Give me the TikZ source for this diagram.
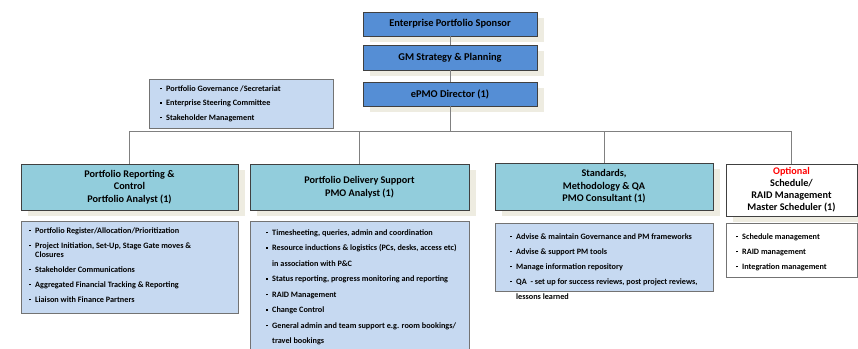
\documentclass[tikz,border=0pt]{standalone}
\usepackage{fontspec}
\setmainfont{Carlito}
\usetikzlibrary{shadows}
\definecolor{topblue}{HTML}{558ED5}
\definecolor{headaqua}{HTML}{92CDDC}
\definecolor{listblue}{HTML}{C6D9F1}
\definecolor{shadebeige}{HTML}{EEECE1}
\definecolor{linegray}{HTML}{808080}
\newcommand{\bul}{\rule[2pt]{1.6pt}{1.6pt}\hspace{4.4pt}}
\newcommand{\ind}{\hspace{6pt}}

\begin{document}
\begin{tikzpicture}[x=1pt,y=-1pt,
    shadowed/.style={drop shadow={shadow xshift=7pt,shadow yshift=-6pt,fill=shadebeige,opacity=1}},
    topbox/.style={draw=black!75,line width=0.9pt,fill=topblue,minimum width=174pt,minimum height=24pt,inner sep=0pt,font=\fontsize{10.4}{12}\selectfont\bfseries,shadowed},
    headbox/.style={draw=black!75,line width=0.9pt,fill=headaqua,inner sep=0pt,align=center,font=\fontsize{10.2}{12.5}\selectfont\bfseries,shadowed},
    listbox/.style={draw=black!55,line width=0.8pt,fill=listblue,inner sep=0pt,anchor=north west},
    listtext/.style={anchor=north west,inner sep=0pt,align=left,font=\fontsize{8.2}{15}\selectfont\bfseries},
    link/.style={draw=linegray,line width=0.8pt}]
    \useasboundingbox (0,0) rectangle (858,348);

    \node[topbox] (eps) at (450,24) {Enterprise Portfolio Sponsor};
    \node[topbox,minimum height=25pt] (gm) at (450,57.5) {GM Strategy \& Planning};
    \node[topbox] (epmo) at (450,94) {ePMO Director (1)};

    \node[listbox,minimum width=184pt,minimum height=49pt] (gov) at (149,79) {};
    \node[listtext,font=\fontsize{8.2}{14.5}\selectfont\bfseries] (govtext) at ([xshift=11pt,yshift=-6.5pt]gov.north west)
        {\bul Portfolio Governance /Secretariat\\
         \bul Enterprise Steering Committee\\
         \bul Stakeholder Management};

    \node[headbox,minimum width=217pt,minimum height=46pt] (hd1) at (129.5,187)
        {Portfolio Reporting \&\\Control\\Portfolio Analyst (1)};
    \node[headbox,minimum width=219pt,minimum height=46pt] (hd2) at (359.5,187)
        {Portfolio Delivery Support\\PMO Analyst (1)};
    \node[headbox,minimum width=218pt,minimum height=47pt] (hd3) at (604,186.5)
        {Standards,\\Methodology \& QA\\PMO Consultant (1)};
    \node[headbox,fill=white,minimum width=131pt,minimum height=52pt,font=\fontsize{10.2}{12}\selectfont\bfseries] (hd4) at (791.5,190)
        {{\color{red}Optional}\\Schedule/\\RAID Management\\Master Scheduler (1)};

    \node[listbox,minimum width=217pt,minimum height=92pt] (l1) at (21,221) {};
    \node[listtext] (t1) at ([xshift=8pt,yshift=-6.5pt]l1.north west)
        {\bul Portfolio Register/Allocation/Prioritization\\
         \bul Project Initiation, Set-Up, Stage Gate moves \&\\[-6pt]
         \ind Closures\\
         \bul Stakeholder Communications\\
         \bul Aggregated Financial Tracking \& Reporting\\
         \bul Liaison with Finance Partners};

    \node[listbox,minimum width=219pt,minimum height=140pt] (l2) at (250,221) {};
    \node[listtext,font=\fontsize{8.2}{15.5}\selectfont\bfseries] (t2) at ([xshift=16pt,yshift=-8.5pt]l2.north west)
        {\bul Timesheeting, queries, admin and coordination\\
         \bul Resource inductions \& logistics (PCs, desks, access etc)\\
         \ind in association with P\&C\\
         \bul Status reporting, progress monitoring and reporting\\
         \bul RAID Management\\
         \bul Change Control\\
         \bul General admin and team support e.g. room bookings/\\
         \ind travel bookings};

    \node[listbox,minimum width=218pt,minimum height=68pt] (l3) at (495,223) {};
    \node[listtext] (t3) at ([xshift=15pt,yshift=-10.5pt]l3.north west)
        {\bul Advise \& maintain Governance and PM frameworks\\
         \bul Advise \& support PM tools\\
         \bul Manage information repository\\
         \bul QA\ \ - set up for success reviews, post project reviews,\\
         \ind lessons learned};

    \node[listbox,fill=white,minimum width=131pt,minimum height=54pt] (l4) at (726,223) {};
    \node[listtext] (t4) at ([xshift=10pt,yshift=-10.5pt]l4.north west)
        {\bul Schedule management\\
         \bul RAID management\\
         \bul Integration management};

    \coordinate (bus) at (450,131);
    \draw[link] (eps) -- (gm);
    \draw[link] (gm) -- (epmo);
    \draw[link] (epmo) -- (bus);
    \foreach \h in {hd1,hd2,hd3,hd4}
        \draw[link] (bus) -| (\h);
\end{tikzpicture}
\end{document}
